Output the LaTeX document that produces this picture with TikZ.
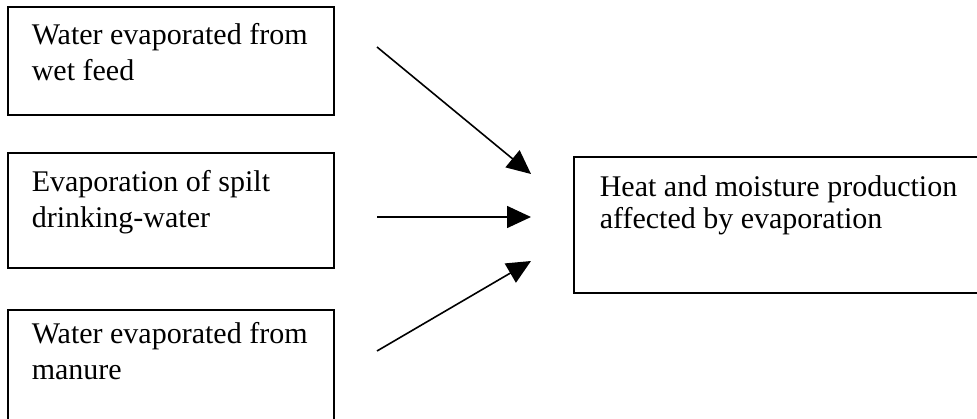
\documentclass[tikz,border=0pt]{standalone}
\usepackage{fontspec}
\setmainfont{Liberation Serif}
\usetikzlibrary{arrows.meta}

\begin{document}
\begin{tikzpicture}[
		x=1pt, y=-1pt,
		line width=1.6pt,
		box/.style={draw, anchor=north west, minimum width=326pt, inner sep=0pt},
		desc/.style={anchor=base west, align=left, inner sep=0pt, font=\fontsize{30}{36}\selectfont},
		flow/.style={-{Triangle[length=24pt, width=22pt]}}
		]
	
	\useasboundingbox (0,0) rectangle (977,418);
	
	% Wet feed
	\node[box, minimum height=108pt] (wetfeed) at (7,6) {};
	\node[desc] (wetfeedtext) at (31,80) {Water evaporated from\\wet feed};
	
	% Spilt drinking-water
	\node[box, minimum height=115pt] (spilt) at (7,152) {};
	\node[desc] (spilttext) at (31,227) {Evaporation of spilt\\drinking-water};
	
	% Manure
	\node[box, minimum height=125pt] (manure) at (7,309) {};
	\node[desc] (manuretext) at (31,379) {Water evaporated from\\manure};
	
	% Heat and moisture
	\node[box, minimum width=420pt, minimum height=136pt] (heat) at (573,156) {};
	\node[desc, font=\fontsize{30}{32}\selectfont] (heattext) at (599,228) {Heat and moisture production\\affected by evaporation};
	
	% Arrow ends
	\coordinate (feedtail) at (377,47);
	\coordinate (feedhead) at (531,174);
	\coordinate (spilttail) at (377,217);
	\coordinate (spilthead) at (531,217);
	\coordinate (manuretail) at (377,351);
	\coordinate (manurehead) at (531,261);
	
	% Flows
	\draw[flow] (feedtail) -- (feedhead);
	\draw[flow] (spilttail) -- (spilthead);
	\draw[flow] (manuretail) -- (manurehead);

\end{tikzpicture}
\end{document}
